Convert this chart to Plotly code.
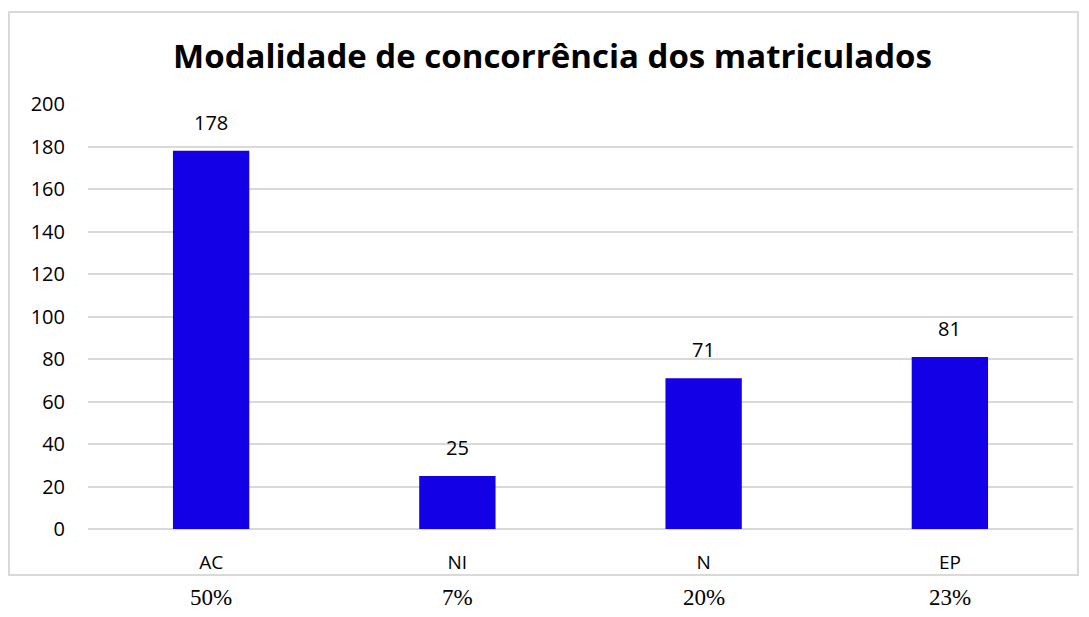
import plotly.graph_objects as go

# data
categorias = ['AC', 'NI', 'N', 'EP']
matriculados = [178, 25, 71, 81]
percentuais = ['50%', '7%', '20%', '23%']

bar_color = '#1400E6'

fig = go.Figure()

fig.add_trace(go.Bar(
    x=categorias, y=matriculados,
    marker=dict(color=bar_color, line=dict(width=0)),
    width=0.31,
))

# value labels above the bars
for cat, val in zip(categorias, matriculados):
    fig.add_annotation(x=cat, y=val, text=str(val), showarrow=False,
                       yanchor='bottom', yshift=13,
                       font=dict(family='Open Sans', size=20, color='#000000'))

# percentages printed under the chart box (serif, like the document text)
for cat, pct in zip(categorias, percentuais):
    fig.add_annotation(x=cat, y=-0.16, xref='x', yref='paper', text=pct,
                       showarrow=False, yanchor='middle',
                       font=dict(family='Liberation Serif', size=23, color='#000000'))

# outer chart frame
fig.add_shape(type='rect', xref='paper', yref='paper',
              x0=-0.0802, x1=1.005, y0=-0.108, y1=1.2165,
              line=dict(color='#D9D9D9', width=2), layer='below')

fig.update_layout(
    width=1089, height=617,
    margin=dict(l=80, r=24, t=96, b=96),
    paper_bgcolor='white', plot_bgcolor='white',
    title=dict(text='<b>Modalidade de concorrência dos matriculados</b>',
               x=0.5, xanchor='center', y=0.922, yanchor='middle',
               font=dict(family='Open Sans', size=33, color='#000000')),
    showlegend=False,
)
fig.update_xaxes(showline=False, ticks='', showgrid=False,
                 tickfont=dict(family='Open Sans', size=19, color='#000000'),
                 ticklabelstandoff=20)
fig.update_yaxes(range=[0, 200], dtick=20, showgrid=True, gridcolor='#D9D9D9',
                 gridwidth=1.5, zeroline=True, zerolinecolor='#D9D9D9', zerolinewidth=1.5,
                 showline=False, ticks='',
                 tickfont=dict(family='Open Sans', size=20, color='#000000'),
                 ticklabelstandoff=22)

fig.write_html('out.html')
